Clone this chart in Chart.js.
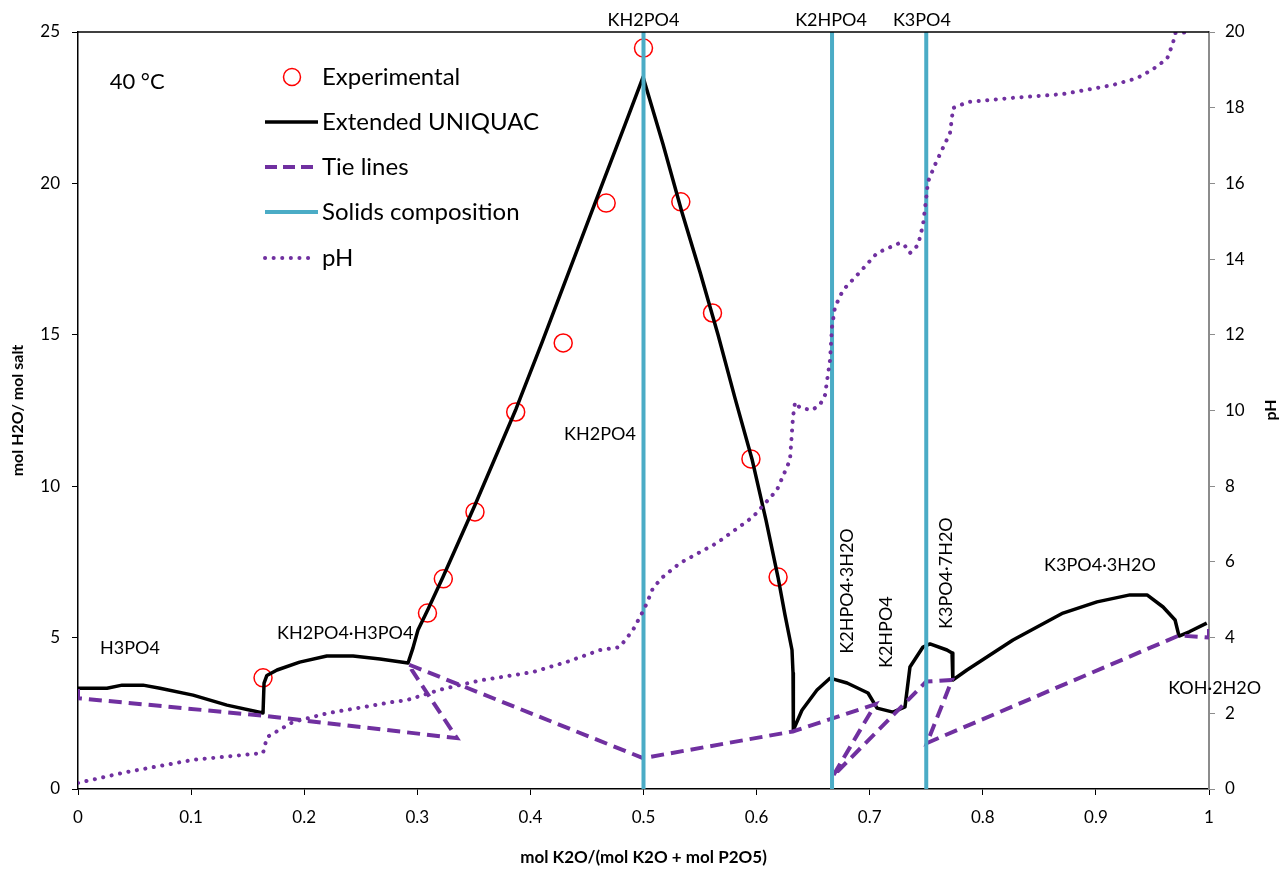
<!DOCTYPE html>
<html>
<head>
<meta charset="utf-8">
<script src="https://cdn.jsdelivr.net/npm/chart.js@4.4.1/dist/chart.umd.min.js"></script>
<style>
  html, body { margin: 0; padding: 0; background: #fff; }
  #wrap { width: 1285px; height: 869px; }
</style>
</head>
<body>
<div id="wrap"><canvas id="chart" width="1285" height="869"></canvas></div>
<script>
const FONT = "Lato, 'Open Sans', sans-serif";
const PURPLE = "#7030A0";
const BLUE = "#4BACC6";

// Experimental points
const expX = [0.1636, 0.309, 0.323, 0.351, 0.387, 0.429, 0.467, 0.50, 0.533, 0.561, 0.595, 0.619];
const expY = [3.67, 5.81, 6.94, 9.15, 12.45, 14.73, 19.35, 24.47, 19.39, 15.72, 10.9, 7.0];

// Extended UNIQUAC model curve
const uniX = [0, 0.0256, 0.039, 0.0575, 0.0725, 0.1017, 0.1317, 0.1636, 0.1645, 0.167, 0.176, 0.196,
  0.22, 0.2432, 0.267, 0.2918, 0.2962, 0.3006, 0.3095, 0.3227, 0.351, 0.3873, 0.4103, 0.4571, 0.4836,
  0.4996, 0.5172, 0.534, 0.55, 0.5659, 0.5809, 0.5959, 0.6083, 0.6189, 0.6251, 0.6313, 0.6322, 0.6325,
  0.6401, 0.6534, 0.6649, 0.680, 0.6985, 0.7065, 0.7206, 0.7312, 0.7356, 0.7471, 0.7533, 0.7683,
  0.7728, 0.7735, 0.786, 0.8267, 0.8709, 0.901, 0.9301, 0.9452, 0.9594, 0.97, 0.9735, 0.983, 0.998];
const uniY = [3.33, 3.33, 3.43, 3.43, 3.33, 3.10, 2.77, 2.51, 3.5, 3.75, 3.93, 4.19,
  4.39, 4.39, 4.29, 4.16, 4.66, 5.25, 5.94, 7.0, 9.38, 12.55, 14.75, 19.35, 21.93,
  23.51, 21.3, 19.05, 17.07, 15.0, 12.91, 10.9, 8.88, 7.0, 5.75, 4.59, 3.83, 1.95,
  2.6, 3.27, 3.66, 3.5, 3.17, 2.67, 2.54, 2.71, 4.03, 4.69, 4.79, 4.59,
  4.49, 3.6, 3.93, 4.92, 5.81, 6.18, 6.41, 6.41, 6.01, 5.58, 5.05, 5.2, 5.48];

// Tie lines
const tieX = [0, 0, 0.1636, 0.335, 0.2918, 0.4996, 0.632, 0.705, 0.6676, 0.75, 0.7728, 0.7507, 0.9735, 1.0, 1.0];
const tieY = [3.3, 3.0, 2.42, 1.68, 4.12, 1.02, 1.9, 2.8, 0.43, 3.55, 3.6, 1.52, 5.07, 5.0, 5.42];

// Solids composition
const solidX = [0.5, 0.5, null, 0.6667, 0.6667, null, 0.75, 0.75];
const solidY = [0, 25, null, 0, 25, null, 0, 25];

// pH (right axis)
const phX = [0, 0.0433, 0.1017, 0.1636, 0.1671, 0.1901, 0.2202, 0.2785, 0.291, 0.32, 0.3378, 0.358,
  0.4023, 0.4324, 0.4615, 0.479, 0.4907, 0.4996, 0.503, 0.5084, 0.517, 0.5323, 0.565, 0.5968, 0.618,
  0.6295, 0.6322, 0.634, 0.6384, 0.649, 0.656, 0.6605, 0.6649, 0.6667, 0.6693, 0.6764, 0.6914, 0.7065,
  0.7268, 0.7312, 0.7356, 0.7427, 0.7471, 0.7498, 0.7515, 0.7577, 0.7648, 0.771, 0.7728, 0.7737,
  0.7869, 0.8267, 0.8709, 0.9151, 0.9363, 0.9496, 0.9629, 0.9682, 0.97, 0.985];
const phY = [0.16, 0.45, 0.77, 0.95, 1.37, 1.77, 2.0, 2.3, 2.35, 2.62, 2.75, 2.88,
  3.09, 3.36, 3.67, 3.75, 4.2, 4.7, 4.91, 5.31, 5.6, 5.97, 6.5, 7.19, 7.9,
  8.69, 9.83, 10.22, 10.07, 10.01, 10.15, 10.41, 11.33, 12.21, 12.73, 13.18, 13.66, 14.16,
  14.43, 14.35, 14.16, 14.37, 14.9, 15.56, 16.04, 16.49, 16.94, 17.33, 17.75, 17.99,
  18.15, 18.26, 18.36, 18.6, 18.78, 19.0, 19.29, 19.71, 19.97, 20.0];

const xTicks = [0, 0.1, 0.2, 0.3, 0.4, 0.5, 0.6, 0.7, 0.8, 0.9, 1];

// text labels placed in data units
const labels = [
  { text: "40 °C", x: 0.028, y: 23.35, size: 22, align: "left" },
  { text: "H3PO4", x: 0.0195, y: 4.66, size: 18, align: "left" },
  { text: "KH2PO4·H3PO4", x: 0.176, y: 5.15, size: 18, align: "left" },
  { text: "KH2PO4", x: 0.5, y: 25.4, size: 18, align: "center" },
  { text: "K2HPO4", x: 0.6658, y: 25.4, size: 18, align: "center" },
  { text: "K3PO4", x: 0.7462, y: 25.4, size: 18, align: "center" },
  { text: "KH2PO4", x: 0.4615, y: 11.72, size: 18, align: "center" },
  { text: "K2HPO4·3H2O", x: 0.68, y: 6.54, size: 18, align: "center", rot: true },
  { text: "K2HPO4", x: 0.7144, y: 5.18, size: 18, align: "center", rot: true },
  { text: "K3PO4·7H2O", x: 0.7675, y: 7.13, size: 18, align: "center", rot: true },
  { text: "K3PO4·3H2O", x: 0.9036, y: 7.4, size: 18, align: "center" },
  { text: "KOH·2H2O", x: 1.005, y: 3.34, size: 18, align: "center" },
];

const toPts = (xs, ys) => xs.map((v, i) => ({ x: v, y: ys[i] }));

const extras = {
  id: "extras",
  afterDraw(chart) {
    const { ctx, chartArea: a, scales } = chart;
    const x = scales.x, y = scales.y;
    ctx.save();
    // top frame line
    ctx.strokeStyle = "#000";
    ctx.lineWidth = 1.5;
    ctx.beginPath();
    ctx.moveTo(a.left, a.top);
    ctx.lineTo(a.right, a.top);
    ctx.stroke();

    // text labels
    ctx.fillStyle = "#000";
    ctx.textBaseline = "middle";
    labels.forEach(l => {
      ctx.font = l.size + "px " + FONT;
      const px = x.getPixelForValue(l.x);
      const py = y.getPixelForValue(l.y);
      ctx.save();
      ctx.translate(px, py);
      if (l.rot) ctx.rotate(-Math.PI / 2);
      ctx.textAlign = l.align;
      ctx.fillText(l.text, 0, 0);
      ctx.restore();
    });

    // right axis title
    ctx.save();
    ctx.font = "bold 16px " + FONT;
    ctx.translate(1271, 410);
    ctx.rotate(-Math.PI / 2);
    ctx.textAlign = "center";
    ctx.fillText("pH", 0, 0);
    ctx.restore();

    // legend
    const lx = a.left + 187, tx = a.left + 244;
    const rows = [77, 122, 167, 212, 258];
    ctx.font = "24px " + FONT;
    ctx.textAlign = "left";
    ctx.fillText("Experimental", tx, rows[0]);
    ctx.fillText("Extended UNIQUAC", tx, rows[1]);
    ctx.fillText("Tie lines", tx, rows[2]);
    ctx.fillText("Solids composition", tx, rows[3]);
    ctx.fillText("pH", tx, rows[4]);

    ctx.strokeStyle = "#FF0000";
    ctx.lineWidth = 1.5;
    ctx.beginPath();
    ctx.arc(lx + 27, rows[0], 8.5, 0, Math.PI * 2);
    ctx.stroke();

    ctx.strokeStyle = "#000";
    ctx.lineWidth = 3.5;
    ctx.beginPath();
    ctx.moveTo(lx, rows[1]); ctx.lineTo(lx + 53, rows[1]);
    ctx.stroke();

    ctx.strokeStyle = PURPLE;
    ctx.lineWidth = 4;
    ctx.setLineDash([12, 6]);
    ctx.beginPath();
    ctx.moveTo(lx, rows[2]); ctx.lineTo(lx + 50, rows[2]);
    ctx.stroke();

    ctx.setLineDash([]);
    ctx.strokeStyle = BLUE;
    ctx.lineWidth = 4;
    ctx.beginPath();
    ctx.moveTo(lx, rows[3]); ctx.lineTo(lx + 53, rows[3]);
    ctx.stroke();

    ctx.strokeStyle = PURPLE;
    ctx.lineWidth = 4;
    ctx.lineCap = "round";
    ctx.setLineDash([0.1, 8.5]);
    ctx.beginPath();
    ctx.moveTo(lx, rows[4]); ctx.lineTo(lx + 50, rows[4]);
    ctx.stroke();
    ctx.restore();
  }
};

const tickFont = { family: FONT, size: 17 };

new Chart(document.getElementById("chart"), {
  type: "scatter",
  data: {
    datasets: [
      {
        label: "pH",
        data: toPts(phX, phY),
        yAxisID: "y2",
        showLine: true,
        borderColor: PURPLE,
        borderWidth: 4,
        borderDash: [0.1, 8.5],
        borderCapStyle: "round",
        pointRadius: 0,
        order: 0
      },
      {
        label: "Solids composition",
        data: toPts(solidX, solidY),
        showLine: true,
        spanGaps: false,
        borderColor: BLUE,
        borderWidth: 4,
        pointRadius: 0,
        order: 1
      },
      {
        label: "Tie lines",
        data: toPts(tieX, tieY),
        showLine: true,
        borderColor: PURPLE,
        borderWidth: 4,
        borderDash: [13, 7],
        pointRadius: 0,
        order: 2
      },
      {
        label: "Extended UNIQUAC",
        data: toPts(uniX, uniY),
        showLine: true,
        borderColor: "#000",
        borderWidth: 3.5,
        borderJoinStyle: "round",
        pointRadius: 0,
        order: 3
      },
      {
        label: "Experimental",
        data: toPts(expX, expY),
        showLine: false,
        pointStyle: "circle",
        pointRadius: 9,
        pointBorderWidth: 1.5,
        pointBorderColor: "#FF0000",
        pointBackgroundColor: "rgba(0,0,0,0)",
        order: 4
      }
    ]
  },
  options: {
    responsive: false,
    animation: false,
    layout: { padding: { top: 32, left: 0, right: 0, bottom: 0 } },
    plugins: { legend: { display: false }, tooltip: { enabled: false } },
    scales: {
      x: {
        type: "linear",
        min: 0, max: 1,
        afterBuildTicks: s => { s.ticks = xTicks.map(v => ({ value: v })); },
        afterFit: s => { s.height = 80; },
        grid: { drawOnChartArea: false, drawTicks: true, tickLength: 6, color: "#000" },
        border: { color: "#000", width: 1.5 },
        ticks: { font: tickFont, color: "#000", padding: 12, maxRotation: 0,
          callback: v => String(Math.round(v * 10) / 10) },
        title: { display: true, text: "mol K2O/(mol K2O + mol P2O5)", color: "#000",
          font: { family: FONT, size: 17, weight: "bold" }, padding: { top: 0, bottom: 1 } }
      },
      y: {
        position: "left",
        min: 0, max: 25,
        afterFit: s => { s.width = 78; },
        grid: { drawOnChartArea: false, drawTicks: true, tickLength: 6, color: "#000" },
        border: { color: "#000", width: 1.5 },
        ticks: { stepSize: 5, font: tickFont, color: "#000", padding: 12 },
        title: { display: true, text: "mol H2O/ mol salt", color: "#000",
          font: { family: FONT, size: 16, weight: "bold" }, padding: { top: 8, bottom: 0 } }
      },
      y2: {
        position: "right",
        min: 0, max: 20,
        afterFit: s => { s.width = 76; },
        grid: { drawOnChartArea: false, drawTicks: true, tickLength: 6, color: "#8c8c8c" },
        border: { color: "#8c8c8c", width: 2 },
        ticks: { stepSize: 2, font: tickFont, color: "#000", padding: 10 }
      }
    }
  },
  plugins: [extras]
});
</script>
</body>
</html>
